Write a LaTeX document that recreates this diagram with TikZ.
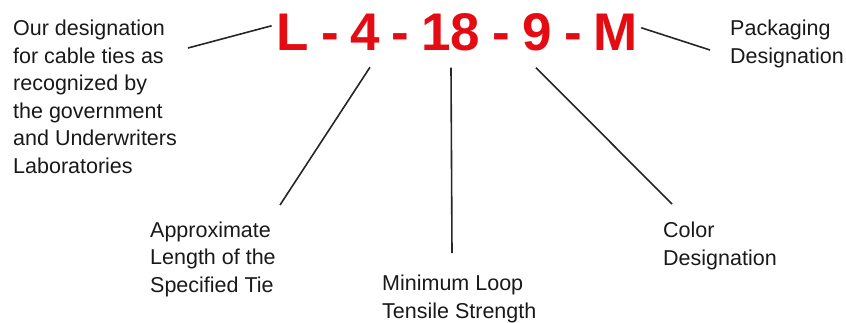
\documentclass[tikz,border=0pt]{standalone}
\usepackage{fontspec}
\setmainfont{Liberation Sans}
\usepackage{tikz}

\definecolor{codered}{RGB}{228,12,18}

\begin{document}
\begin{tikzpicture}[x=1pt,y=-1pt,
      code/.style={font=\fontsize{53}{53}\selectfont\bfseries, text=codered,
        inner sep=0pt, anchor=base},
      label/.style={font=\fontsize{21.5}{27.5}\selectfont, text=black!90,
        align=left, inner sep=0pt, anchor=base west},
      lead/.style={line width=1.6pt, black!85}]

      \useasboundingbox (0,0) rectangle (846,322);

      % the part number
      \node[code] (L) at (293,50) {L};
      \node[code] (dashA) at (330,50) {-};
      \node[code] (four) at (365,50) {4};
      \node[code] (dashB) at (400,50) {-};
      \node[code] (eighteen) at (451,50) {18};
      \node[code] (dashC) at (501,50) {-};
      \node[code] (nine) at (537,50) {9};
      \node[code] (dashD) at (573,50) {-};
      \node[code] (M) at (616,50) {M};

      % what each part means (base = last line)
      \node[label] (series) at (13,173) {Our designation\\for cable ties as\\recognized by\\the government\\and Underwriters\\Laboratories};
      \node[label] (length) at (150,292) {Approximate\\Length of the\\Specified Tie};
      \node[label] (strength) at (382,318) {Minimum Loop\\Tensile Strength};
      \node[label] (color) at (663,265) {Color\\Designation};
      \node[label] (packing) at (730,63) {Packaging\\Designation};

      \coordinate (seriesTip) at (188,48);
      \coordinate (lengthTip) at (280,205);
      \coordinate (strengthTip) at (452,253);
      \coordinate (colorTip) at (672,204);
      \coordinate (packingTip) at (710,50);

      \draw[lead] (seriesTip) -- ([xshift=-5pt,yshift=6pt]L.west);
      \draw[lead] (lengthTip) -- ([xshift=5pt,yshift=-17pt]four.south);
      \draw[lead] (strengthTip) -- ([yshift=-17pt]eighteen.south);
      \draw[lead] (colorTip) -- ([xshift=-1pt,yshift=-17pt]nine.south);
      \draw[lead] (packingTip) -- ([xshift=3pt,yshift=4pt]M.east);

    \end{tikzpicture}
\end{document}
